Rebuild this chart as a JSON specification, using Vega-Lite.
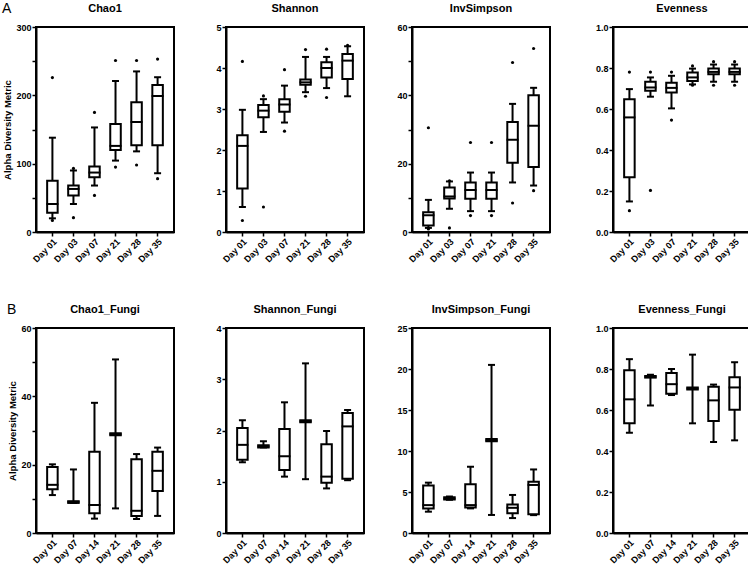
{
  "$schema": "https://vega.github.io/schema/vega-lite/v6.json",
  "background": "white",
  "padding": {"left": 1, "top": 2, "right": 1, "bottom": 1},
  "datasets": {
    "box": [
      {"panel": "Chao1", "day": "Day 01", "lo": 20, "q1": 28, "med": 41, "q3": 75, "hi": 138},
      {"panel": "Chao1", "day": "Day 03", "lo": 41, "q1": 53.5, "med": 63, "q3": 68, "hi": 90},
      {"panel": "Chao1", "day": "Day 07", "lo": 68, "q1": 80, "med": 87, "q3": 96, "hi": 153},
      {"panel": "Chao1", "day": "Day 21", "lo": 104.5, "q1": 120, "med": 126, "q3": 158, "hi": 221},
      {"panel": "Chao1", "day": "Day 28", "lo": 118, "q1": 127, "med": 161, "q3": 190, "hi": 235},
      {"panel": "Chao1", "day": "Day 35", "lo": 86, "q1": 127, "med": 199, "q3": 215, "hi": 226.5},
      {"panel": "Shannon", "day": "Day 01", "lo": 0.61, "q1": 1.06, "med": 2.1, "q3": 2.36, "hi": 2.98},
      {"panel": "Shannon", "day": "Day 03", "lo": 2.44, "q1": 2.8, "med": 2.96, "q3": 3.1, "hi": 3.24},
      {"panel": "Shannon", "day": "Day 07", "lo": 2.67, "q1": 2.93, "med": 3.11, "q3": 3.24, "hi": 3.57},
      {"panel": "Shannon", "day": "Day 21", "lo": 3.41, "q1": 3.59, "med": 3.65, "q3": 3.72, "hi": 4.27},
      {"panel": "Shannon", "day": "Day 28", "lo": 3.51, "q1": 3.77, "med": 4.0, "q3": 4.14, "hi": 4.27},
      {"panel": "Shannon", "day": "Day 35", "lo": 3.31, "q1": 3.73, "med": 4.18, "q3": 4.34, "hi": 4.53},
      {"panel": "InvSimpson", "day": "Day 01", "lo": 1.2, "q1": 1.9, "med": 4.9, "q3": 5.8, "hi": 9.4},
      {"panel": "InvSimpson", "day": "Day 03", "lo": 6.8, "q1": 9.8, "med": 10.4, "q3": 13, "hi": 14.8},
      {"panel": "InvSimpson", "day": "Day 07", "lo": 6.1, "q1": 9.7, "med": 12.3, "q3": 14.5, "hi": 17.4},
      {"panel": "InvSimpson", "day": "Day 21", "lo": 6.1, "q1": 9.7, "med": 12.3, "q3": 14.5, "hi": 17.4},
      {"panel": "InvSimpson", "day": "Day 28", "lo": 14.5, "q1": 20.3, "med": 27, "q3": 32.2, "hi": 37.5},
      {"panel": "InvSimpson", "day": "Day 35", "lo": 13.6, "q1": 19, "med": 31.1, "q3": 40, "hi": 42.2},
      {"panel": "Evenness", "day": "Day 01", "lo": 0.149, "q1": 0.267, "med": 0.559, "q3": 0.648, "hi": 0.697},
      {"panel": "Evenness", "day": "Day 03", "lo": 0.66, "q1": 0.689, "med": 0.705, "q3": 0.733, "hi": 0.754},
      {"panel": "Evenness", "day": "Day 07", "lo": 0.603, "q1": 0.681, "med": 0.703, "q3": 0.728, "hi": 0.762},
      {"panel": "Evenness", "day": "Day 21", "lo": 0.72, "q1": 0.736, "med": 0.754, "q3": 0.778, "hi": 0.797},
      {"panel": "Evenness", "day": "Day 28", "lo": 0.733, "q1": 0.77, "med": 0.781, "q3": 0.797, "hi": 0.817},
      {"panel": "Evenness", "day": "Day 35", "lo": 0.733, "q1": 0.77, "med": 0.781, "q3": 0.797, "hi": 0.817},
      {"panel": "Chao1_Fungi", "day": "Day 01", "lo": 11.1, "q1": 12.8, "med": 14.1, "q3": 19.3, "hi": 20.1},
      {"panel": "Chao1_Fungi", "day": "Day 07", "lo": 8.8, "q1": 8.8, "med": 9.1, "q3": 9.3, "hi": 18.6},
      {"panel": "Chao1_Fungi", "day": "Day 14", "lo": 4.2, "q1": 5.8, "med": 8.2, "q3": 23.8, "hi": 38.1},
      {"panel": "Chao1_Fungi", "day": "Day 21", "lo": 7.2, "q1": 28.6, "med": 28.9, "q3": 29.2, "hi": 50.8},
      {"panel": "Chao1_Fungi", "day": "Day 28", "lo": 4.1, "q1": 5.0, "med": 6.5, "q3": 21.6, "hi": 23.1},
      {"panel": "Chao1_Fungi", "day": "Day 35", "lo": 5.0, "q1": 12.3, "med": 18.2, "q3": 23.8, "hi": 25.0},
      {"panel": "Shannon_Fungi", "day": "Day 01", "lo": 1.38, "q1": 1.43, "med": 1.72, "q3": 2.05, "hi": 2.2},
      {"panel": "Shannon_Fungi", "day": "Day 07", "lo": 1.67, "q1": 1.67, "med": 1.69, "q3": 1.71, "hi": 1.79},
      {"panel": "Shannon_Fungi", "day": "Day 14", "lo": 1.1, "q1": 1.23, "med": 1.5, "q3": 2.03, "hi": 2.55},
      {"panel": "Shannon_Fungi", "day": "Day 21", "lo": 1.05, "q1": 2.16, "med": 2.18, "q3": 2.2, "hi": 3.31},
      {"panel": "Shannon_Fungi", "day": "Day 28", "lo": 0.87, "q1": 0.98, "med": 1.1, "q3": 1.73, "hi": 1.99},
      {"panel": "Shannon_Fungi", "day": "Day 35", "lo": 1.03, "q1": 1.06, "med": 2.08, "q3": 2.34, "hi": 2.4},
      {"panel": "InvSimpson_Fungi", "day": "Day 01", "lo": 2.6, "q1": 3.0, "med": 3.4, "q3": 5.8, "hi": 6.14},
      {"panel": "InvSimpson_Fungi", "day": "Day 07", "lo": 4.05, "q1": 4.1, "med": 4.2, "q3": 4.35, "hi": 4.45},
      {"panel": "InvSimpson_Fungi", "day": "Day 14", "lo": 3.0, "q1": 3.1, "med": 3.4, "q3": 5.94, "hi": 8.08},
      {"panel": "InvSimpson_Fungi", "day": "Day 21", "lo": 2.2, "q1": 11.2, "med": 11.3, "q3": 11.45, "hi": 20.5},
      {"panel": "InvSimpson_Fungi", "day": "Day 28", "lo": 1.82, "q1": 2.42, "med": 3.07, "q3": 3.47, "hi": 4.64},
      {"panel": "InvSimpson_Fungi", "day": "Day 35", "lo": 2.18, "q1": 2.3, "med": 5.86, "q3": 6.26, "hi": 7.75},
      {"panel": "Evenness_Fungi", "day": "Day 01", "lo": 0.489, "q1": 0.535, "med": 0.652, "q3": 0.794, "hi": 0.848},
      {"panel": "Evenness_Fungi", "day": "Day 07", "lo": 0.622, "q1": 0.758, "med": 0.762, "q3": 0.766, "hi": 0.772},
      {"panel": "Evenness_Fungi", "day": "Day 14", "lo": 0.673, "q1": 0.679, "med": 0.726, "q3": 0.78, "hi": 0.8},
      {"panel": "Evenness_Fungi", "day": "Day 21", "lo": 0.535, "q1": 0.7, "med": 0.705, "q3": 0.71, "hi": 0.87},
      {"panel": "Evenness_Fungi", "day": "Day 28", "lo": 0.444, "q1": 0.546, "med": 0.647, "q3": 0.713, "hi": 0.724},
      {"panel": "Evenness_Fungi", "day": "Day 35", "lo": 0.452, "q1": 0.601, "med": 0.71, "q3": 0.76, "hi": 0.833}
    ],
    "out": [
      {"panel": "Chao1", "day": "Day 01", "v": 226}, {"panel": "Chao1", "day": "Day 01", "v": 17},
      {"panel": "Chao1", "day": "Day 03", "v": 93}, {"panel": "Chao1", "day": "Day 03", "v": 21},
      {"panel": "Chao1", "day": "Day 07", "v": 175}, {"panel": "Chao1", "day": "Day 07", "v": 53.5},
      {"panel": "Chao1", "day": "Day 21", "v": 251}, {"panel": "Chao1", "day": "Day 21", "v": 95},
      {"panel": "Chao1", "day": "Day 28", "v": 251}, {"panel": "Chao1", "day": "Day 28", "v": 98},
      {"panel": "Chao1", "day": "Day 35", "v": 253}, {"panel": "Chao1", "day": "Day 35", "v": 78},
      {"panel": "Shannon", "day": "Day 01", "v": 4.16}, {"panel": "Shannon", "day": "Day 01", "v": 0.28},
      {"panel": "Shannon", "day": "Day 03", "v": 3.32}, {"panel": "Shannon", "day": "Day 03", "v": 0.61},
      {"panel": "Shannon", "day": "Day 07", "v": 3.96}, {"panel": "Shannon", "day": "Day 07", "v": 2.46},
      {"panel": "Shannon", "day": "Day 21", "v": 4.45}, {"panel": "Shannon", "day": "Day 21", "v": 3.31},
      {"panel": "Shannon", "day": "Day 28", "v": 4.46}, {"panel": "Shannon", "day": "Day 28", "v": 3.28},
      {"panel": "Shannon", "day": "Day 35", "v": 4.55},
      {"panel": "InvSimpson", "day": "Day 01", "v": 30.5}, {"panel": "InvSimpson", "day": "Day 01", "v": 0.9},
      {"panel": "InvSimpson", "day": "Day 03", "v": 15}, {"panel": "InvSimpson", "day": "Day 03", "v": 1.2},
      {"panel": "InvSimpson", "day": "Day 07", "v": 26.2}, {"panel": "InvSimpson", "day": "Day 07", "v": 4.8},
      {"panel": "InvSimpson", "day": "Day 21", "v": 26.2}, {"panel": "InvSimpson", "day": "Day 21", "v": 4.8},
      {"panel": "InvSimpson", "day": "Day 28", "v": 49.6}, {"panel": "InvSimpson", "day": "Day 28", "v": 8.5},
      {"panel": "InvSimpson", "day": "Day 35", "v": 53.7}, {"panel": "InvSimpson", "day": "Day 35", "v": 12.1},
      {"panel": "Evenness", "day": "Day 01", "v": 0.78}, {"panel": "Evenness", "day": "Day 01", "v": 0.104},
      {"panel": "Evenness", "day": "Day 03", "v": 0.78}, {"panel": "Evenness", "day": "Day 03", "v": 0.203},
      {"panel": "Evenness", "day": "Day 07", "v": 0.78}, {"panel": "Evenness", "day": "Day 07", "v": 0.546},
      {"panel": "Evenness", "day": "Day 21", "v": 0.81}, {"panel": "Evenness", "day": "Day 21", "v": 0.716},
      {"panel": "Evenness", "day": "Day 28", "v": 0.831}, {"panel": "Evenness", "day": "Day 28", "v": 0.716},
      {"panel": "Evenness", "day": "Day 35", "v": 0.831}, {"panel": "Evenness", "day": "Day 35", "v": 0.716}
    ]
  },
  "vconcat": [
    {
      "title": {"text": "A", "anchor": "start", "frame": "bounds", "fontSize": 14, "fontWeight": "normal", "offset": -14},
      "spacing": 39,
      "hconcat": [
        {
          "title": "Chao1", "width": 138, "height": 205,
          "encoding": {"x": {"field": "day", "type": "nominal", "title": null}},
          "layer": [
            {"data": {"name": "box"}, "transform": [{"filter": "datum.panel === 'Chao1'"}], "mark": {"type": "rule", "color": "black", "strokeWidth": 2},
             "encoding": {"y": {"field": "lo", "type": "quantitative", "scale": {"domain": [0, 300], "nice": false, "zero": true}, "title": "Alpha Diversity Metric", "axis": {"values": [0, 50, 100, 150, 200, 250, 300], "labelExpr": "datum.value % 100 === 0 ? datum.label : ''"}}, "y2": {"field": "hi"}}},
            {"data": {"name": "box"}, "transform": [{"filter": "datum.panel === 'Chao1'"}], "mark": {"type": "bar", "fill": "white", "stroke": "black", "strokeWidth": 2},
             "encoding": {"y": {"field": "q1", "type": "quantitative", "scale": {"domain": [0, 300], "nice": false, "zero": true}, "title": "Alpha Diversity Metric", "axis": {"values": [0, 50, 100, 150, 200, 250, 300], "labelExpr": "datum.value % 100 === 0 ? datum.label : ''"}}, "y2": {"field": "q3"}}},
            {"data": {"name": "box"}, "transform": [{"filter": "datum.panel === 'Chao1'"}], "mark": {"type": "tick", "color": "black", "opacity": 1, "thickness": 2, "size": 12},
             "encoding": {"y": {"field": "med", "type": "quantitative", "scale": {"domain": [0, 300], "nice": false, "zero": true}, "title": "Alpha Diversity Metric", "axis": {"values": [0, 50, 100, 150, 200, 250, 300], "labelExpr": "datum.value % 100 === 0 ? datum.label : ''"}}}},
            {"data": {"name": "box"}, "transform": [{"filter": "datum.panel === 'Chao1'"}], "mark": {"type": "tick", "color": "black", "opacity": 1, "thickness": 2, "size": 7},
             "encoding": {"y": {"field": "lo", "type": "quantitative", "scale": {"domain": [0, 300], "nice": false, "zero": true}, "title": "Alpha Diversity Metric", "axis": {"values": [0, 50, 100, 150, 200, 250, 300], "labelExpr": "datum.value % 100 === 0 ? datum.label : ''"}}}},
            {"data": {"name": "box"}, "transform": [{"filter": "datum.panel === 'Chao1'"}], "mark": {"type": "tick", "color": "black", "opacity": 1, "thickness": 2, "size": 7},
             "encoding": {"y": {"field": "hi", "type": "quantitative", "scale": {"domain": [0, 300], "nice": false, "zero": true}, "title": "Alpha Diversity Metric", "axis": {"values": [0, 50, 100, 150, 200, 250, 300], "labelExpr": "datum.value % 100 === 0 ? datum.label : ''"}}}},
            {"data": {"name": "out"}, "transform": [{"filter": "datum.panel === 'Chao1'"}], "mark": {"type": "circle", "color": "black", "opacity": 1, "size": 10},
             "encoding": {"y": {"field": "v", "type": "quantitative", "scale": {"domain": [0, 300], "nice": false, "zero": true}, "title": "Alpha Diversity Metric", "axis": {"values": [0, 50, 100, 150, 200, 250, 300], "labelExpr": "datum.value % 100 === 0 ? datum.label : ''"}}}}
          ]
        },
        {
          "spacing": 30,
          "hconcat": [
            {
              "title": "Shannon", "width": 138, "height": 205,
              "encoding": {"x": {"field": "day", "type": "nominal", "title": null}},
              "layer": [
                {"data": {"name": "box"}, "transform": [{"filter": "datum.panel === 'Shannon'"}], "mark": {"type": "rule", "color": "black", "strokeWidth": 2},
                 "encoding": {"y": {"field": "lo", "type": "quantitative", "scale": {"domain": [0, 5], "nice": false, "zero": true}, "title": null, "axis": {"values": [0, 1, 2, 3, 4, 5]}}, "y2": {"field": "hi"}}},
                {"data": {"name": "box"}, "transform": [{"filter": "datum.panel === 'Shannon'"}], "mark": {"type": "bar", "fill": "white", "stroke": "black", "strokeWidth": 2},
                 "encoding": {"y": {"field": "q1", "type": "quantitative", "scale": {"domain": [0, 5], "nice": false, "zero": true}, "title": null, "axis": {"values": [0, 1, 2, 3, 4, 5]}}, "y2": {"field": "q3"}}},
                {"data": {"name": "box"}, "transform": [{"filter": "datum.panel === 'Shannon'"}], "mark": {"type": "tick", "color": "black", "opacity": 1, "thickness": 2, "size": 12},
                 "encoding": {"y": {"field": "med", "type": "quantitative", "scale": {"domain": [0, 5], "nice": false, "zero": true}, "title": null, "axis": {"values": [0, 1, 2, 3, 4, 5]}}}},
                {"data": {"name": "box"}, "transform": [{"filter": "datum.panel === 'Shannon'"}], "mark": {"type": "tick", "color": "black", "opacity": 1, "thickness": 2, "size": 7},
                 "encoding": {"y": {"field": "lo", "type": "quantitative", "scale": {"domain": [0, 5], "nice": false, "zero": true}, "title": null, "axis": {"values": [0, 1, 2, 3, 4, 5]}}}},
                {"data": {"name": "box"}, "transform": [{"filter": "datum.panel === 'Shannon'"}], "mark": {"type": "tick", "color": "black", "opacity": 1, "thickness": 2, "size": 7},
                 "encoding": {"y": {"field": "hi", "type": "quantitative", "scale": {"domain": [0, 5], "nice": false, "zero": true}, "title": null, "axis": {"values": [0, 1, 2, 3, 4, 5]}}}},
                {"data": {"name": "out"}, "transform": [{"filter": "datum.panel === 'Shannon'"}], "mark": {"type": "circle", "color": "black", "opacity": 1, "size": 10},
                 "encoding": {"y": {"field": "v", "type": "quantitative", "scale": {"domain": [0, 5], "nice": false, "zero": true}, "title": null, "axis": {"values": [0, 1, 2, 3, 4, 5]}}}}
              ]
            },
            {
              "spacing": 43,
              "hconcat": [
                {
                  "title": "InvSimpson", "width": 138, "height": 205,
                  "encoding": {"x": {"field": "day", "type": "nominal", "title": null}},
                  "layer": [
                    {"data": {"name": "box"}, "transform": [{"filter": "datum.panel === 'InvSimpson'"}], "mark": {"type": "rule", "color": "black", "strokeWidth": 2},
                     "encoding": {"y": {"field": "lo", "type": "quantitative", "scale": {"domain": [0, 60], "nice": false, "zero": true}, "title": null, "axis": {"values": [0, 10, 20, 30, 40, 50, 60], "labelExpr": "datum.value % 20 === 0 ? datum.label : ''"}}, "y2": {"field": "hi"}}},
                    {"data": {"name": "box"}, "transform": [{"filter": "datum.panel === 'InvSimpson'"}], "mark": {"type": "bar", "fill": "white", "stroke": "black", "strokeWidth": 2},
                     "encoding": {"y": {"field": "q1", "type": "quantitative", "scale": {"domain": [0, 60], "nice": false, "zero": true}, "title": null, "axis": {"values": [0, 10, 20, 30, 40, 50, 60], "labelExpr": "datum.value % 20 === 0 ? datum.label : ''"}}, "y2": {"field": "q3"}}},
                    {"data": {"name": "box"}, "transform": [{"filter": "datum.panel === 'InvSimpson'"}], "mark": {"type": "tick", "color": "black", "opacity": 1, "thickness": 2, "size": 12},
                     "encoding": {"y": {"field": "med", "type": "quantitative", "scale": {"domain": [0, 60], "nice": false, "zero": true}, "title": null, "axis": {"values": [0, 10, 20, 30, 40, 50, 60], "labelExpr": "datum.value % 20 === 0 ? datum.label : ''"}}}},
                    {"data": {"name": "box"}, "transform": [{"filter": "datum.panel === 'InvSimpson'"}], "mark": {"type": "tick", "color": "black", "opacity": 1, "thickness": 2, "size": 7},
                     "encoding": {"y": {"field": "lo", "type": "quantitative", "scale": {"domain": [0, 60], "nice": false, "zero": true}, "title": null, "axis": {"values": [0, 10, 20, 30, 40, 50, 60], "labelExpr": "datum.value % 20 === 0 ? datum.label : ''"}}}},
                    {"data": {"name": "box"}, "transform": [{"filter": "datum.panel === 'InvSimpson'"}], "mark": {"type": "tick", "color": "black", "opacity": 1, "thickness": 2, "size": 7},
                     "encoding": {"y": {"field": "hi", "type": "quantitative", "scale": {"domain": [0, 60], "nice": false, "zero": true}, "title": null, "axis": {"values": [0, 10, 20, 30, 40, 50, 60], "labelExpr": "datum.value % 20 === 0 ? datum.label : ''"}}}},
                    {"data": {"name": "out"}, "transform": [{"filter": "datum.panel === 'InvSimpson'"}], "mark": {"type": "circle", "color": "black", "opacity": 1, "size": 10},
                     "encoding": {"y": {"field": "v", "type": "quantitative", "scale": {"domain": [0, 60], "nice": false, "zero": true}, "title": null, "axis": {"values": [0, 10, 20, 30, 40, 50, 60], "labelExpr": "datum.value % 20 === 0 ? datum.label : ''"}}}}
                  ]
                },
                {
                  "title": "Evenness", "width": 138, "height": 205,
                  "encoding": {"x": {"field": "day", "type": "nominal", "title": null}},
                  "layer": [
                    {"data": {"name": "box"}, "transform": [{"filter": "datum.panel === 'Evenness'"}], "mark": {"type": "rule", "color": "black", "strokeWidth": 2},
                     "encoding": {"y": {"field": "lo", "type": "quantitative", "scale": {"domain": [0, 1], "nice": false, "zero": true}, "title": null, "axis": {"values": [0, 0.2, 0.4, 0.6, 0.8, 1], "format": ".1f"}}, "y2": {"field": "hi"}}},
                    {"data": {"name": "box"}, "transform": [{"filter": "datum.panel === 'Evenness'"}], "mark": {"type": "bar", "fill": "white", "stroke": "black", "strokeWidth": 2},
                     "encoding": {"y": {"field": "q1", "type": "quantitative", "scale": {"domain": [0, 1], "nice": false, "zero": true}, "title": null, "axis": {"values": [0, 0.2, 0.4, 0.6, 0.8, 1], "format": ".1f"}}, "y2": {"field": "q3"}}},
                    {"data": {"name": "box"}, "transform": [{"filter": "datum.panel === 'Evenness'"}], "mark": {"type": "tick", "color": "black", "opacity": 1, "thickness": 2, "size": 12},
                     "encoding": {"y": {"field": "med", "type": "quantitative", "scale": {"domain": [0, 1], "nice": false, "zero": true}, "title": null, "axis": {"values": [0, 0.2, 0.4, 0.6, 0.8, 1], "format": ".1f"}}}},
                    {"data": {"name": "box"}, "transform": [{"filter": "datum.panel === 'Evenness'"}], "mark": {"type": "tick", "color": "black", "opacity": 1, "thickness": 2, "size": 7},
                     "encoding": {"y": {"field": "lo", "type": "quantitative", "scale": {"domain": [0, 1], "nice": false, "zero": true}, "title": null, "axis": {"values": [0, 0.2, 0.4, 0.6, 0.8, 1], "format": ".1f"}}}},
                    {"data": {"name": "box"}, "transform": [{"filter": "datum.panel === 'Evenness'"}], "mark": {"type": "tick", "color": "black", "opacity": 1, "thickness": 2, "size": 7},
                     "encoding": {"y": {"field": "hi", "type": "quantitative", "scale": {"domain": [0, 1], "nice": false, "zero": true}, "title": null, "axis": {"values": [0, 0.2, 0.4, 0.6, 0.8, 1], "format": ".1f"}}}},
                    {"data": {"name": "out"}, "transform": [{"filter": "datum.panel === 'Evenness'"}], "mark": {"type": "circle", "color": "black", "opacity": 1, "size": 10},
                     "encoding": {"y": {"field": "v", "type": "quantitative", "scale": {"domain": [0, 1], "nice": false, "zero": true}, "title": null, "axis": {"values": [0, 0.2, 0.4, 0.6, 0.8, 1], "format": ".1f"}}}}
                  ]
                }
              ]
            }
          ]
        }
      ]
    },
    {
      "title": {"text": "B", "anchor": "start", "frame": "bounds", "fontSize": 14, "fontWeight": "normal", "offset": -14},
      "spacing": 39,
      "hconcat": [
        {
          "title": "Chao1_Fungi", "width": 138, "height": 205,
          "encoding": {"x": {"field": "day", "type": "nominal", "title": null}},
          "layer": [
            {"data": {"name": "box"}, "transform": [{"filter": "datum.panel === 'Chao1_Fungi'"}], "mark": {"type": "rule", "color": "black", "strokeWidth": 2},
             "encoding": {"y": {"field": "lo", "type": "quantitative", "scale": {"domain": [0, 60], "nice": false, "zero": true}, "title": "Alpha Diversity Metric", "axis": {"values": [0, 10, 20, 30, 40, 50, 60], "labelExpr": "datum.value % 20 === 0 ? datum.label : ''"}}, "y2": {"field": "hi"}}},
            {"data": {"name": "box"}, "transform": [{"filter": "datum.panel === 'Chao1_Fungi'"}], "mark": {"type": "bar", "fill": "white", "stroke": "black", "strokeWidth": 2},
             "encoding": {"y": {"field": "q1", "type": "quantitative", "scale": {"domain": [0, 60], "nice": false, "zero": true}, "title": "Alpha Diversity Metric", "axis": {"values": [0, 10, 20, 30, 40, 50, 60], "labelExpr": "datum.value % 20 === 0 ? datum.label : ''"}}, "y2": {"field": "q3"}}},
            {"data": {"name": "box"}, "transform": [{"filter": "datum.panel === 'Chao1_Fungi'"}], "mark": {"type": "tick", "color": "black", "opacity": 1, "thickness": 2, "size": 12},
             "encoding": {"y": {"field": "med", "type": "quantitative", "scale": {"domain": [0, 60], "nice": false, "zero": true}, "title": "Alpha Diversity Metric", "axis": {"values": [0, 10, 20, 30, 40, 50, 60], "labelExpr": "datum.value % 20 === 0 ? datum.label : ''"}}}},
            {"data": {"name": "box"}, "transform": [{"filter": "datum.panel === 'Chao1_Fungi'"}], "mark": {"type": "tick", "color": "black", "opacity": 1, "thickness": 2, "size": 7},
             "encoding": {"y": {"field": "lo", "type": "quantitative", "scale": {"domain": [0, 60], "nice": false, "zero": true}, "title": "Alpha Diversity Metric", "axis": {"values": [0, 10, 20, 30, 40, 50, 60], "labelExpr": "datum.value % 20 === 0 ? datum.label : ''"}}}},
            {"data": {"name": "box"}, "transform": [{"filter": "datum.panel === 'Chao1_Fungi'"}], "mark": {"type": "tick", "color": "black", "opacity": 1, "thickness": 2, "size": 7},
             "encoding": {"y": {"field": "hi", "type": "quantitative", "scale": {"domain": [0, 60], "nice": false, "zero": true}, "title": "Alpha Diversity Metric", "axis": {"values": [0, 10, 20, 30, 40, 50, 60], "labelExpr": "datum.value % 20 === 0 ? datum.label : ''"}}}}
          ]
        },
        {
          "spacing": 30,
          "hconcat": [
            {
              "title": "Shannon_Fungi", "width": 138, "height": 205,
              "encoding": {"x": {"field": "day", "type": "nominal", "title": null}},
              "layer": [
                {"data": {"name": "box"}, "transform": [{"filter": "datum.panel === 'Shannon_Fungi'"}], "mark": {"type": "rule", "color": "black", "strokeWidth": 2},
                 "encoding": {"y": {"field": "lo", "type": "quantitative", "scale": {"domain": [0, 4], "nice": false, "zero": true}, "title": null, "axis": {"values": [0, 1, 2, 3, 4]}}, "y2": {"field": "hi"}}},
                {"data": {"name": "box"}, "transform": [{"filter": "datum.panel === 'Shannon_Fungi'"}], "mark": {"type": "bar", "fill": "white", "stroke": "black", "strokeWidth": 2},
                 "encoding": {"y": {"field": "q1", "type": "quantitative", "scale": {"domain": [0, 4], "nice": false, "zero": true}, "title": null, "axis": {"values": [0, 1, 2, 3, 4]}}, "y2": {"field": "q3"}}},
                {"data": {"name": "box"}, "transform": [{"filter": "datum.panel === 'Shannon_Fungi'"}], "mark": {"type": "tick", "color": "black", "opacity": 1, "thickness": 2, "size": 12},
                 "encoding": {"y": {"field": "med", "type": "quantitative", "scale": {"domain": [0, 4], "nice": false, "zero": true}, "title": null, "axis": {"values": [0, 1, 2, 3, 4]}}}},
                {"data": {"name": "box"}, "transform": [{"filter": "datum.panel === 'Shannon_Fungi'"}], "mark": {"type": "tick", "color": "black", "opacity": 1, "thickness": 2, "size": 7},
                 "encoding": {"y": {"field": "lo", "type": "quantitative", "scale": {"domain": [0, 4], "nice": false, "zero": true}, "title": null, "axis": {"values": [0, 1, 2, 3, 4]}}}},
                {"data": {"name": "box"}, "transform": [{"filter": "datum.panel === 'Shannon_Fungi'"}], "mark": {"type": "tick", "color": "black", "opacity": 1, "thickness": 2, "size": 7},
                 "encoding": {"y": {"field": "hi", "type": "quantitative", "scale": {"domain": [0, 4], "nice": false, "zero": true}, "title": null, "axis": {"values": [0, 1, 2, 3, 4]}}}}
              ]
            },
            {
              "spacing": 43,
              "hconcat": [
                {
                  "title": "InvSimpson_Fungi", "width": 138, "height": 205,
                  "encoding": {"x": {"field": "day", "type": "nominal", "title": null}},
                  "layer": [
                    {"data": {"name": "box"}, "transform": [{"filter": "datum.panel === 'InvSimpson_Fungi'"}], "mark": {"type": "rule", "color": "black", "strokeWidth": 2},
                     "encoding": {"y": {"field": "lo", "type": "quantitative", "scale": {"domain": [0, 25], "nice": false, "zero": true}, "title": null, "axis": {"values": [0, 5, 10, 15, 20, 25]}}, "y2": {"field": "hi"}}},
                    {"data": {"name": "box"}, "transform": [{"filter": "datum.panel === 'InvSimpson_Fungi'"}], "mark": {"type": "bar", "fill": "white", "stroke": "black", "strokeWidth": 2},
                     "encoding": {"y": {"field": "q1", "type": "quantitative", "scale": {"domain": [0, 25], "nice": false, "zero": true}, "title": null, "axis": {"values": [0, 5, 10, 15, 20, 25]}}, "y2": {"field": "q3"}}},
                    {"data": {"name": "box"}, "transform": [{"filter": "datum.panel === 'InvSimpson_Fungi'"}], "mark": {"type": "tick", "color": "black", "opacity": 1, "thickness": 2, "size": 12},
                     "encoding": {"y": {"field": "med", "type": "quantitative", "scale": {"domain": [0, 25], "nice": false, "zero": true}, "title": null, "axis": {"values": [0, 5, 10, 15, 20, 25]}}}},
                    {"data": {"name": "box"}, "transform": [{"filter": "datum.panel === 'InvSimpson_Fungi'"}], "mark": {"type": "tick", "color": "black", "opacity": 1, "thickness": 2, "size": 7},
                     "encoding": {"y": {"field": "lo", "type": "quantitative", "scale": {"domain": [0, 25], "nice": false, "zero": true}, "title": null, "axis": {"values": [0, 5, 10, 15, 20, 25]}}}},
                    {"data": {"name": "box"}, "transform": [{"filter": "datum.panel === 'InvSimpson_Fungi'"}], "mark": {"type": "tick", "color": "black", "opacity": 1, "thickness": 2, "size": 7},
                     "encoding": {"y": {"field": "hi", "type": "quantitative", "scale": {"domain": [0, 25], "nice": false, "zero": true}, "title": null, "axis": {"values": [0, 5, 10, 15, 20, 25]}}}}
                  ]
                },
                {
                  "title": "Evenness_Fungi", "width": 138, "height": 205,
                  "encoding": {"x": {"field": "day", "type": "nominal", "title": null}},
                  "layer": [
                    {"data": {"name": "box"}, "transform": [{"filter": "datum.panel === 'Evenness_Fungi'"}], "mark": {"type": "rule", "color": "black", "strokeWidth": 2},
                     "encoding": {"y": {"field": "lo", "type": "quantitative", "scale": {"domain": [0, 1], "nice": false, "zero": true}, "title": null, "axis": {"values": [0, 0.2, 0.4, 0.6, 0.8, 1], "format": ".1f"}}, "y2": {"field": "hi"}}},
                    {"data": {"name": "box"}, "transform": [{"filter": "datum.panel === 'Evenness_Fungi'"}], "mark": {"type": "bar", "fill": "white", "stroke": "black", "strokeWidth": 2},
                     "encoding": {"y": {"field": "q1", "type": "quantitative", "scale": {"domain": [0, 1], "nice": false, "zero": true}, "title": null, "axis": {"values": [0, 0.2, 0.4, 0.6, 0.8, 1], "format": ".1f"}}, "y2": {"field": "q3"}}},
                    {"data": {"name": "box"}, "transform": [{"filter": "datum.panel === 'Evenness_Fungi'"}], "mark": {"type": "tick", "color": "black", "opacity": 1, "thickness": 2, "size": 12},
                     "encoding": {"y": {"field": "med", "type": "quantitative", "scale": {"domain": [0, 1], "nice": false, "zero": true}, "title": null, "axis": {"values": [0, 0.2, 0.4, 0.6, 0.8, 1], "format": ".1f"}}}},
                    {"data": {"name": "box"}, "transform": [{"filter": "datum.panel === 'Evenness_Fungi'"}], "mark": {"type": "tick", "color": "black", "opacity": 1, "thickness": 2, "size": 7},
                     "encoding": {"y": {"field": "lo", "type": "quantitative", "scale": {"domain": [0, 1], "nice": false, "zero": true}, "title": null, "axis": {"values": [0, 0.2, 0.4, 0.6, 0.8, 1], "format": ".1f"}}}},
                    {"data": {"name": "box"}, "transform": [{"filter": "datum.panel === 'Evenness_Fungi'"}], "mark": {"type": "tick", "color": "black", "opacity": 1, "thickness": 2, "size": 7},
                     "encoding": {"y": {"field": "hi", "type": "quantitative", "scale": {"domain": [0, 1], "nice": false, "zero": true}, "title": null, "axis": {"values": [0, 0.2, 0.4, 0.6, 0.8, 1], "format": ".1f"}}}}
                  ]
                }
              ]
            }
          ]
        }
      ]
    }
  ],
  "spacing": 38,
  "config": {
    "font": "Liberation Sans",
    "view": {"stroke": "black", "strokeWidth": 2},
    "scale": {"bandPaddingInner": 0.5, "bandPaddingOuter": 0.53},
    "axis": {
      "grid": false,
      "domainColor": "black", "domainWidth": 2,
      "tickColor": "black", "tickWidth": 1.5, "tickSize": 4,
      "labelColor": "black", "labelFont": "Liberation Sans", "labelFontWeight": "bold", "labelFontSize": 9, "labelPadding": 1,
      "titleColor": "black", "titleFont": "Liberation Sans", "titleFontWeight": "bold", "titleFontSize": 9.5, "titlePadding": 3
    },
    "axisX": {"labelAngle": -45},
    "title": {"font": "Liberation Sans", "fontSize": 11, "fontWeight": "bold", "color": "black", "offset": 9}
  }
}
